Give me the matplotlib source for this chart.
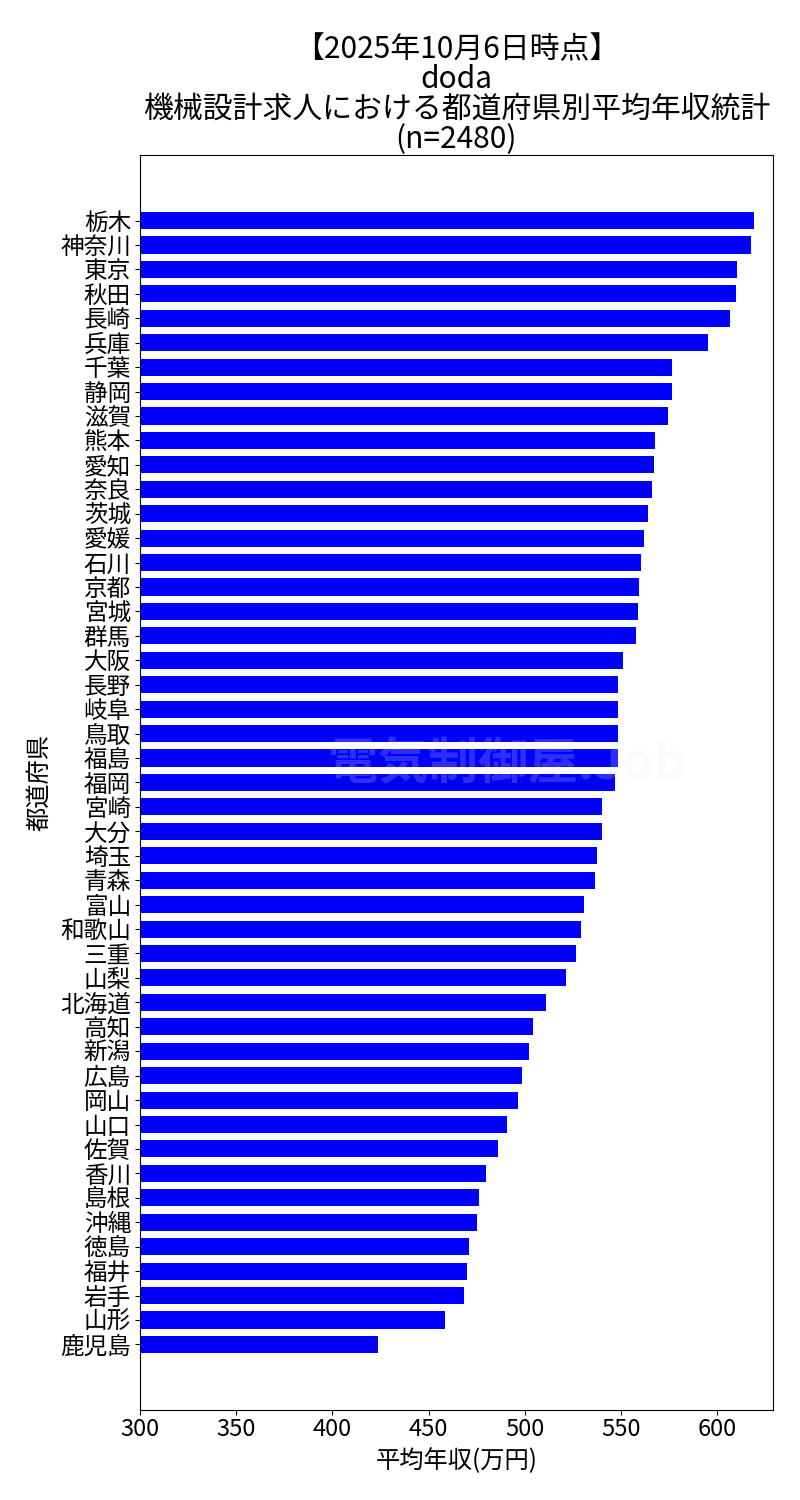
import matplotlib
matplotlib.use("Agg")
import matplotlib.pyplot as plt

plt.rcParams["font.family"] = ["Noto Sans CJK JP", "DejaVu Sans"]

# 都道府県と平均年収(万円)  上から順に
prefectures = [
    "栃木", "神奈川", "東京", "秋田", "長崎", "兵庫", "千葉", "静岡", "滋賀", "熊本",
    "愛知", "奈良", "茨城", "愛媛", "石川", "京都", "宮城", "群馬", "大阪", "長野",
    "岐阜", "鳥取", "福島", "福岡", "宮崎", "大分", "埼玉", "青森", "富山", "和歌山",
    "三重", "山梨", "北海道", "高知", "新潟", "広島", "岡山", "山口", "佐賀", "香川",
    "島根", "沖縄", "徳島", "福井", "岩手", "山形", "鹿児島",
]
salary = [
    619.4, 617.8, 610.5, 610.0, 607.0, 595.5, 576.5, 576.5, 574.5, 568.0,
    567.4, 566.0, 564.0, 562.0, 560.6, 559.6, 559.0, 558.0, 551.0, 548.6,
    548.6, 548.6, 548.6, 547.0, 540.3, 540.3, 537.7, 536.7, 531.0, 529.4,
    526.8, 521.6, 511.0, 504.4, 502.3, 498.7, 496.6, 491.0, 486.0, 480.0,
    476.0, 475.3, 471.0, 470.0, 468.5, 458.6, 423.6,
]

fig = plt.figure(figsize=(8, 15), dpi=100)
ax = fig.add_axes([0.175, 0.06, 0.791, 0.8367])

ax.barh(prefectures, salary, height=0.7, color="blue")
ax.invert_yaxis()
ax.set_xlim(300, 629)

ax.set_xlabel("平均年収(万円)", fontsize=17.5, labelpad=5)
ax.set_ylabel("都道府県", fontsize=17.5, labelpad=6)
ax.tick_params(axis="x", labelsize=17, pad=2)
ax.tick_params(axis="y", labelsize=17, pad=3)

ax.set_title("【2025年10月6日時点】\ndoda\n機械設計求人における都道府県別平均年収統計\n(n=2480)",
             fontsize=21.5, linespacing=0.95, pad=4)

# うっすら入っているロゴ
ax.text(0.58, 0.515, "電気制御屋.Job", transform=ax.transAxes, fontsize=36,
        color="#e8e8f0", alpha=0.2, ha="center", va="center", zorder=5,
        fontweight="bold")

fig.savefig("out.png", dpi=100)
